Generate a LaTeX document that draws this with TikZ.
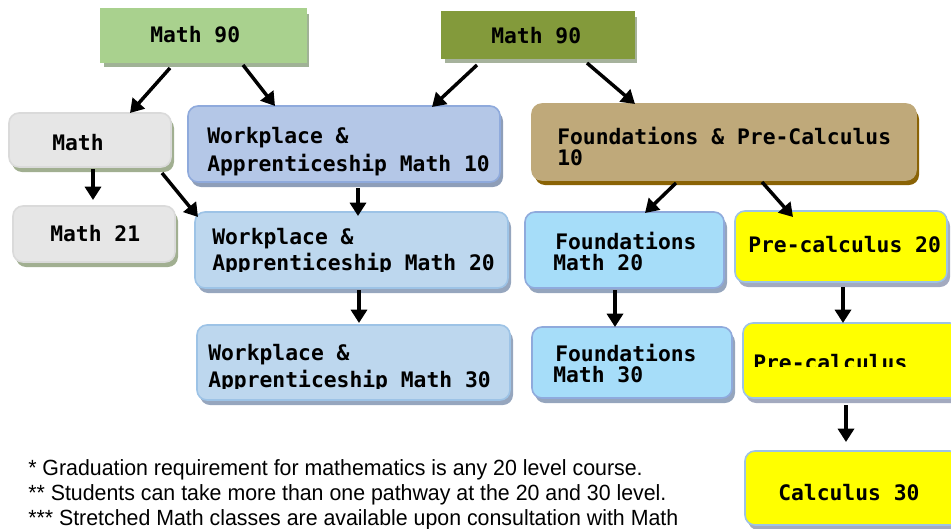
\documentclass[tikz,border=0pt]{standalone}
\usepackage{fontspec}
\setmainfont{Liberation Sans}
\newfontfamily\boxfont{DejaVu Sans Mono}
\newfontfamily\notefont[FakeStretch=0.97]{Liberation Sans}
\usetikzlibrary{arrows.meta}
\definecolor{gA}{HTML}{A9D18E}\definecolor{gAs}{HTML}{A0B296}
\definecolor{olv}{HTML}{839A3B}\definecolor{olvs}{HTML}{A6B29C}
\definecolor{gry}{HTML}{E6E6E6}\definecolor{gryb}{HTML}{DADADA}\definecolor{grys}{HTML}{A1AF91}
\definecolor{wbA}{HTML}{B4C7E7}\definecolor{wbAb}{HTML}{8FAADC}\definecolor{wbAs}{HTML}{8E9EB8}
\definecolor{wbB}{HTML}{BDD7EE}\definecolor{wbBb}{HTML}{9DC3E6}\definecolor{wbBs}{HTML}{96A6BE}
\definecolor{tanc}{HTML}{BFA97A}\definecolor{tans}{HTML}{8A6305}
\definecolor{fbl}{HTML}{A6DDF9}\definecolor{fblb}{HTML}{8FAADC}\definecolor{fbls}{HTML}{95A5BD}
\definecolor{ylw}{HTML}{FFFF00}\definecolor{ylwb}{HTML}{9DC3E6}\definecolor{ylws}{HTML}{A3AABF}
% name, x1, y1, x2, y2, fill, border, shadow, radius
\newcommand\cbox[9]{%
  \fill[#8,rounded corners=#9] (#2+3,#3+5) rectangle (#4+3,#5+5);
  \node[draw=#7,fill=#6,line width=1.2pt,rounded corners=#9,inner sep=0pt,outer sep=0pt,
        anchor=north west,minimum width={(#4-#2)*0.75pt},minimum height={(#5-#3)*0.75pt}] (#1) at (#2,#3) {};}
\begin{document}
\begin{tikzpicture}[x=0.75pt,y=-0.75pt,
  tx/.style={font=\boxfont\bfseries\fontsize{16}{16}\selectfont,inner sep=0pt,anchor=base west},
  note/.style={font=\notefont\fontsize{16.5}{16.5}\selectfont,inner sep=0pt,anchor=base west},
  arr/.style={-{Triangle[length=10pt,width=12pt]},line width=2.6pt}]
\useasboundingbox (0,0) rectangle (951,529);
\cbox{g90}{101}{9}{306}{62}{gA}{gA}{gAs}{0pt}
\cbox{o90}{442}{12}{634}{58}{olv}{olv}{olvs}{0pt}
\cbox{mth}{9}{113}{171}{167}{gry}{gryb}{grys}{7.5pt}
\cbox{w10}{188}{106}{500}{182}{wbA}{wbAb}{wbAs}{7.5pt}
\cbox{f10}{532}{104}{916}{180}{tanc}{tanc}{tans}{7.5pt}
\cbox{m21}{13}{206}{175}{262}{gry}{gryb}{grys}{7.5pt}
\cbox{w20}{195}{212}{508}{288}{wbB}{wbBb}{wbBs}{7.5pt}
\cbox{w30}{197}{325}{510}{400}{wbB}{wbBb}{wbBs}{7.5pt}
\cbox{fm20}{525}{212}{724}{288}{fbl}{fblb}{fbls}{7.5pt}
\cbox{fm30}{532}{327}{732}{398}{fbl}{fblb}{fbls}{7.5pt}
\cbox{pc20}{735}{211}{947}{282}{ylw}{ylwb}{ylws}{7.5pt}
\cbox{pc}{743}{323}{960}{398}{ylw}{ylwb}{ylws}{7.5pt}
\cbox{calc}{745}{451}{960}{525}{ylw}{ylwb}{ylws}{7.5pt}
% texts
\node[tx] (tg90) at (150,42) {Math 90};
\node[tx] (to90) at (491,43) {Math 90};
\node[tx] (tmth) at (52,150) {Math};
\node[tx] (tw10a) at (207,143) {Workplace \&};
\node[tx] (tw10b) at (207,171) {Apprenticeship Math 10};
\node[tx] (tf10a) at (557,144) {Foundations \& Pre-Calculus};
\node[tx] (tf10b) at (557,165) {10};
\node[tx] (tm21) at (50,241) {Math 21};
\node[tx] (tw20a) at (212,244) {Workplace \&};
\begin{scope}
\clip (200,250) rectangle (505,271);
\node[tx] (tw20b) at (212,270) {Apprenticeship Math 20};
\end{scope}
\node[tx] (tw30a) at (208,360) {Workplace \&};
\begin{scope}
\clip (200,365) rectangle (505,388);
\node[tx] (tw30b) at (208,387) {Apprenticeship Math 30};
\end{scope}
\node[tx] (tfm20a) at (555,249) {Foundations};
\node[tx] (tfm20b) at (553,270) {Math 20};
\node[tx] (tfm30a) at (555,361) {Foundations};
\node[tx] (tfm30b) at (553,382) {Math 30};
\node[tx] (tpc20) at (748,252) {Pre-calculus 20};
\begin{scope}
\clip (745,340) rectangle (951,366);
\node[tx] (tpc) at (753,370) {Pre-calculus};
\end{scope}
\node[tx] (tcalc) at (778,500) {Calculus 30};
% arrows
\draw[arr] ([shift={(69,6)}]g90.south west) -- ([shift={(121,0)}]mth.north west);
\draw[arr] ([shift={(142,3)}]g90.south west) -- ([shift={(87,0)}]w10.north west);
\draw[arr] ([shift={(35,7)}]o90.south west) -- ([shift={(244,1)}]w10.north west);
\draw[arr] ([shift={(145,5)}]o90.south west) -- ([shift={(103,0)}]f10.north west);
\draw[arr] ([shift={(84,2)}]mth.south west) -- ([shift={(80,-6)}]m21.north west);
\draw[arr] ([shift={(153,6)}]mth.south west) -- ([shift={(3,5)}]w20.north west);
\draw[arr] ([shift={(170,6)}]w10.south west) -- ([shift={(163,4)}]w20.north west);
\draw[arr] ([shift={(164,2)}]w20.south west) -- ([shift={(162,-2)}]w30.north west);
\draw[arr] ([shift={(144,3)}]f10.south west) -- ([shift={(120,1)}]fm20.north west);
\draw[arr] ([shift={(230,2)}]f10.south west) -- ([shift={(58,6)}]pc20.north west);
\draw[arr] ([shift={(90,2)}]fm20.south west) -- ([shift={(83,0)}]fm30.north west);
\draw[arr] ([shift={(108,5)}]pc20.south west) -- ([shift={(100,0)}]pc.north west);
\draw[arr] ([shift={(103,7)}]pc.south west) -- ([shift={(101,-9)}]calc.north west);
% notes
\node[note] (n1) at (28,475) {* Graduation requirement for mathematics is any 20 level course.};
\node[note] (n2) at (28,500) {** Students can take more than one pathway at the 20 and 30 level.};
\node[note] (n3) at (28,525) {*** Stretched Math classes are available upon consultation with Math};
\end{tikzpicture}
\end{document}
